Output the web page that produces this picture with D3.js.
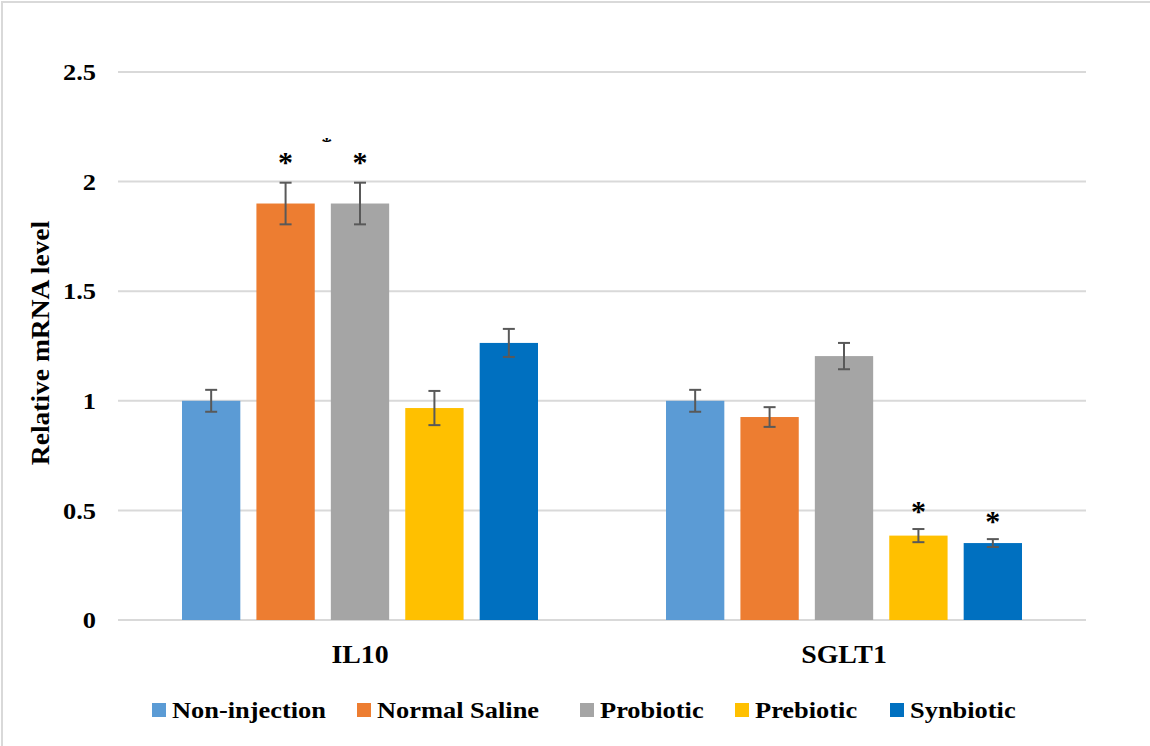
<!DOCTYPE html>
<html><head><meta charset="utf-8">
<script src="https://cdn.jsdelivr.net/npm/d3@7"></script>
<style>body{margin:0;background:#fff}svg{display:block}</style>
</head><body><svg id="c" width="1150" height="746"></svg>
<script>
const genes = ["IL10", "SGLT1"];
const groups = ["Non-injection", "Normal Saline", "Probiotic", "Prebiotic", "Synbiotic"];
const colors = ["#5b9bd5", "#ed7d31", "#a5a5a5", "#ffc000", "#0070c0"];
const means = {IL10: [1.0, 1.9, 1.9, 0.967, 1.264], SGLT1: [1.0, 0.926, 1.204, 0.385, 0.351]};
const errors = {IL10: [0.05, 0.095, 0.095, 0.078, 0.064], SGLT1: [0.05, 0.045, 0.06, 0.03, 0.018]};
const stars = {IL10: [false, true, true, false, false], SGLT1: [false, false, false, true, true]};
const yTicks = [0, 0.5, 1, 1.5, 2, 2.5];

const svg = d3.select("#c");
const L = 118, R = 1086, T = 72, B = 620;
svg.append("path").attr("d","M2,746V2H1150").attr("fill","none").attr("stroke","#d9d9d9").attr("stroke-width",2);

const y = d3.scaleLinear().domain([0, 2.5]).range([B, T]);
const x0 = d3.scaleBand().domain(genes).range([L, R]).paddingInner(0).paddingOuter(0);
const x1 = d3.scaleBand().domain(groups).range([64, x0.bandwidth() - 64]).paddingInner(16/74).paddingOuter(0);

function styleText(sel, size, stretch){
  sel.attr("font-family", "Liberation Serif").attr("font-weight", "bold").attr("font-size", size).attr("fill", "#000");
  if (stretch) sel.each(function(){
    const len = this.getComputedTextLength();
    d3.select(this).attr("textLength", len * stretch).attr("lengthAdjust", "spacingAndGlyphs");
  });
  return sel;
}

svg.append("g").selectAll("line").data(yTicks).join("line")
  .attr("x1", L).attr("x2", R).attr("y1", d => y(d)).attr("y2", d => y(d))
  .attr("stroke", "#d9d9d9").attr("stroke-width", 2);

const yAxis = d3.axisLeft(y).tickValues(yTicks).tickSize(0).tickPadding(0).tickFormat(d3.format("~g"));
const ya = svg.append("g").attr("transform", `translate(${96},0)`).call(yAxis);
ya.select(".domain").remove();
ya.attr("font-family", null);
styleText(ya.selectAll("text"), 24, 1.1);

const xAxis = d3.axisBottom(x0).tickSize(0).tickPadding(0);
const xa = svg.append("g").attr("transform", `translate(0,${663})`).call(xAxis);
xa.select(".domain").remove();
xa.attr("font-family", null);
xa.selectAll("text").attr("dy", null).attr("y", 0);
styleText(xa.selectAll("text"), 26, 1.07);

styleText(svg.append("text").attr("transform", `translate(49,${343}) rotate(-90)`).attr("text-anchor","middle")
  .text("Relative mRNA level"), 25, 1.1);

const gg = svg.append("g").selectAll("g").data(genes).join("g").attr("transform", d => `translate(${x0(d)},0)`);
gg.each(function(gene){
  const g = d3.select(this);
  const data = groups.map((k,i) => ({k, i, v: means[gene][i], e: errors[gene][i], s: stars[gene][i]}));
  g.selectAll("rect").data(data).join("rect")
    .attr("x", d => x1(d.k)).attr("width", x1.bandwidth())
    .attr("y", d => y(d.v)).attr("height", d => y(0) - y(d.v))
    .attr("fill", d => colors[d.i]);
  const eb = g.selectAll("g.eb").data(data).join("g").attr("class","eb")
    .attr("transform", d => `translate(${x1(d.k) + x1.bandwidth()/2},0)`);
  eb.append("line").attr("y1", d => y(d.v + d.e)).attr("y2", d => y(d.v - d.e)).attr("stroke","#595959").attr("stroke-width",2);
  eb.append("line").attr("x1",-6).attr("x2",6).attr("y1", d => y(d.v + d.e)).attr("y2", d => y(d.v + d.e)).attr("stroke","#595959").attr("stroke-width",2);
  eb.append("line").attr("x1",-6).attr("x2",6).attr("y1", d => y(d.v - d.e)).attr("y2", d => y(d.v - d.e)).attr("stroke","#595959").attr("stroke-width",2);
  styleText(eb.filter(d => d.s).append("text").attr("text-anchor","middle")
    .attr("y", d => y(d.v + d.e) - (gene === "IL10" ? 11 : 8)).text("*"), 30);
});
svg.append("clipPath").attr("id","clipStar").append("rect").attr("x",300).attr("y",130).attr("width",60).attr("height",12);
styleText(svg.append("text").attr("x", x0("IL10") + (x1("Normal Saline") + x1("Probiotic") + x1.bandwidth())/2 + 4).attr("y", 152)
  .attr("text-anchor","middle").attr("clip-path","url(#clipStar)").text("*"), 22);

const legX = [152, 357, 580, 735, 890];
const lg = svg.append("g").selectAll("g").data(groups).join("g").attr("transform", (d,i) => `translate(${legX[i]},710)`);
lg.append("rect").attr("x",0).attr("y",-7).attr("width",14).attr("height",14).attr("fill",(d,i)=>colors[i]);
styleText(lg.append("text").attr("x",20).attr("y",8).text(d => d), 24, 1.1);
</script></body></html>
